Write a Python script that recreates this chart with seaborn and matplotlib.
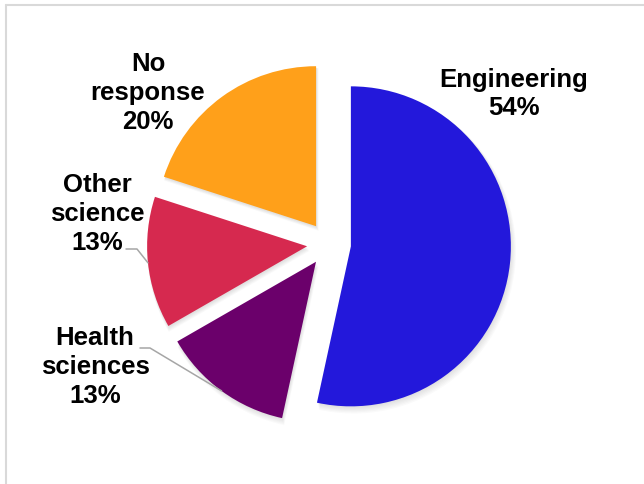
import matplotlib
matplotlib.use("Agg")
import matplotlib.pyplot as plt
from matplotlib.patches import Wedge
from matplotlib.lines import Line2D
import seaborn as sns
import numpy as np

categories = ["Engineering", "Health sciences", "Other science", "No response"]
values = [53.4, 13.3, 13.3, 20.0]          # slice sizes
percent_labels = ["54%", "13%", "13%", "20%"]  # labels as printed
label_names = ["Engineering", "Health\nsciences", "Other\nscience", "No\nresponse"]
colors = ["#2318DB", "#6B006B", "#D6294F", "#FFA01A"]

sns.set_theme(style="white")
plt.rcParams['font.family'] = ['Liberation Sans', 'DejaVu Sans']
palette = sns.color_palette(colors)

W, H = 644, 485
fig = plt.figure(figsize=(W / 100, H / 100), dpi=100)
fig.patch.set_facecolor("white")
ax = fig.add_axes([0, 0, 1, 1])

R = 160.0
cx, cy = 329.0, 245.0  # pie centre in pixels


def to_data(px, py):
    return (px - cx) / R, (cy - py) / R


explode = [0.1375] * len(values)
wedges, _ = ax.pie(values, colors=palette, startangle=90, counterclock=False,
                   explode=explode, radius=1.0,
                   wedgeprops=dict(linewidth=0, zorder=3))

# soft shadow under slices
for w in wedges:
    c = np.array(w.center)
    for k in range(6):
        off = np.array([0.6 + 0.4 * k, -(1.2 + 0.7 * k)]) / R
        sh = Wedge(tuple(c + off), w.r + 0.5 * k / R, w.theta1, w.theta2,
                   facecolor="black", alpha=0.018, linewidth=0, zorder=2)
        ax.add_patch(sh)

ax.set_xlim(-cx / R, (W - cx) / R)
ax.set_ylim(-(H - cy) / R, cy / R)
ax.set_aspect("equal")
ax.axis("off")

label_pos = {
    "Engineering": (514, 94),
    "Health sciences": (95, 367),
    "Other science": (97, 214),
    "No response": (148, 93),
}
for cat, name, pct in zip(categories, label_names, percent_labels):
    x, y = to_data(*label_pos[cat])
    ax.text(x, y, f"{name}\n{pct}", ha="center", va="center", fontsize=18.5,
            fontweight="bold", color="black", linespacing=1.25, zorder=5)

# leader lines to slice arc midpoints
leaders = {
    "Other science": [(126, 250), (137, 250)],
    "Health sciences": [(140, 349), (150, 349)],
}
for i, cat in enumerate(categories):
    if cat in leaders:
        w = wedges[i]
        mid = np.deg2rad((w.theta1 + w.theta2) / 2)
        ex = w.center[0] + w.r * np.cos(mid)
        ey = w.center[1] + w.r * np.sin(mid)
        pts = [to_data(*p) for p in leaders[cat]] + [(ex, ey)]
        xs, ys = zip(*pts)
        ax.plot(xs, ys, color="#A6A6A6", linewidth=1.1, zorder=4)

# outer frame (partially visible)
fig.add_artist(Line2D([6 / W, 6 / W], [0, 1 - 6 / H], color="#D9D9D9",
                      linewidth=1.5, transform=fig.transFigure))
fig.add_artist(Line2D([6 / W, 1], [1 - 6 / H, 1 - 6 / H], color="#D9D9D9",
                      linewidth=1.5, transform=fig.transFigure))

fig.savefig("out.png", dpi=100, facecolor="white")
